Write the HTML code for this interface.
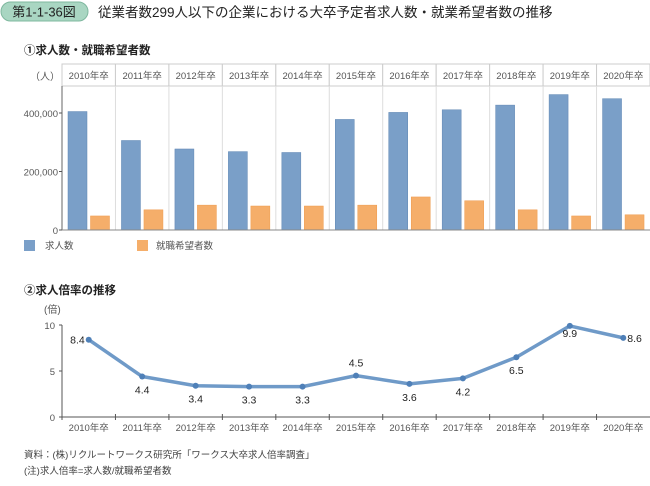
<!DOCTYPE html>
<html><head><meta charset="utf-8">
<style>
body{margin:0;background:#fff;width:650px;height:481px;overflow:hidden;font-family:"Liberation Sans","Noto Sans CJK JP",sans-serif;}
svg text{font-family:"Liberation Sans","Noto Sans CJK JP",sans-serif;}
</style></head><body>
<svg id="c" width="650" height="481">
<rect x="1" y="2" width="87" height="19" rx="9.5" fill="#a9d6c2" stroke="#7fb89f"/>
<text x="44" y="16.5" font-size="13" text-anchor="middle" fill="#222">第1-1-36図</text>
<text x="98" y="17" font-size="13.5" fill="#222">従業者数299人以下の企業における大卒予定者求人数・就業希望者数の推移</text>
<text x="24" y="54" font-size="11.5" font-weight="bold" fill="#222">①求人数・就職希望者数</text>
<text x="30" y="80" font-size="10" fill="#555">（人）</text>
<g id="bars"></g>
<rect x="24" y="240" width="11" height="11" fill="#7a9fc8"/>
<text x="45" y="249" font-size="9.5" fill="#555">求人数</text>
<rect x="137" y="240" width="11" height="11" fill="#f5ae6a"/>
<text x="156" y="249" font-size="9.5" fill="#555">就職希望者数</text>
<text x="24" y="294" font-size="11.5" font-weight="bold" fill="#222">②求人倍率の推移</text>
<text x="44" y="313" font-size="10" fill="#555">(倍)</text>
<g id="line"></g>
<text x="24" y="458" font-size="9.5" fill="#444">資料：(株)リクルートワークス研究所「ワークス大卒求人倍率調査」</text>
<text x="24" y="474" font-size="9.5" fill="#444">(注)求人倍率=求人数/就職希望者数</text>
</svg>
<script>
const categories=["2010年卒","2011年卒","2012年卒","2013年卒","2014年卒","2015年卒","2016年卒","2017年卒","2018年卒","2019年卒","2020年卒"];
const jobOffers=[405000,306000,277000,268000,265000,378000,402000,411000,427000,463000,449000];
const applicants=[48000,69000,85000,82000,82000,85000,113000,100000,69000,48000,52000];
const ratios=[8.4,4.4,3.4,3.3,3.3,4.5,3.6,4.2,6.5,9.9,8.6];
const barTicks=[0,200000,400000];
const barTickLabels=["0","200,000","400,000"];
const lineTicks=[0,5,10];
const ns="http://www.w3.org/2000/svg";
function mk(p,t,a){const e=document.createElementNS(ns,t);for(const k in a)e.setAttribute(k,a[k]);p.appendChild(e);return e;}
const L=62,R=650,cw=(R-L)/categories.length;
const by=v=>230-v*(117/400000);
const bg=document.getElementById('bars');
categories.forEach((c,i)=>{
  const x0=L+i*cw;
  const h=mk(bg,'rect',{x:x0,y:64,width:cw,height:22,fill:'#fff',stroke:'#ccc'});
  
  
  const t=mk(bg,'text',{x:x0+cw/2,y:79,'font-size':9.5,'text-anchor':'middle',fill:'#555'});t.textContent=c;
  
  
  if(i>0){const s=mk(bg,'line',{x1:x0,y1:86,x2:x0,y2:230,stroke:'#ddd'});
  
  }
  const b1=mk(bg,'rect',{x:x0+6,y:by(jobOffers[i]),width:19,height:230-by(jobOffers[i]),fill:'#7a9fc8',stroke:'#5f86b3','stroke-width':0.5});
  
  
  const b2=mk(bg,'rect',{x:x0+28.5,y:by(applicants[i]),width:19,height:230-by(applicants[i]),fill:'#f5ae6a',stroke:'#ee9a4c','stroke-width':0.5});
  
  
});
const ax=mk(bg,'line',{x1:L,y1:86,x2:L,y2:230,stroke:'#666'});


const bx=mk(bg,'line',{x1:L-3,y1:230,x2:R,y2:230,stroke:'#888'});


barTicks.forEach((v,i)=>{
  const t=mk(bg,'text',{x:L-4,y:by(v)+4,'font-size':9.5,'text-anchor':'end',fill:'#555'});t.textContent=barTickLabels[i];
  
  
  const k=mk(bg,'line',{x1:L-3,y1:by(v),x2:L,y2:by(v),stroke:'#555'});
  
  
});
const lg=document.getElementById('line');
const ly=v=>417-v*9.2;
const lx=i=>L+cw*(i+0.5);
const ya=mk(lg,'line',{x1:L,y1:ly(10),x2:L,y2:417,stroke:'#555'});


const xa=mk(lg,'line',{x1:L,y1:417,x2:R,y2:417,stroke:'#555'});


lineTicks.forEach(v=>{
  const k=mk(lg,'line',{x1:L-3,y1:ly(v),x2:L,y2:ly(v),stroke:'#555'});
  
  
  const t=mk(lg,'text',{x:L-7,y:ly(v)+4,'font-size':9.5,'text-anchor':'end',fill:'#555'});t.textContent=v;
  
  
});
categories.forEach((c,i)=>{
  const k=mk(lg,'line',{x1:L+cw*i,y1:414,x2:L+cw*i,y2:420,stroke:'#555'});
  
  
  const t=mk(lg,'text',{x:lx(i),y:431,'font-size':9.5,'text-anchor':'middle',fill:'#555'});t.textContent=c;
  
  
});
const pl=mk(lg,'polyline',{points:ratios.map((v,i)=>lx(i)+','+ly(v)).join(' '),fill:'none',stroke:'#6f9ac8','stroke-width':3.5,'stroke-linejoin':'round'});


const above=[false,false,false,false,false,true,false,false,false,false,false];
ratios.forEach((v,i)=>{
  const p=mk(lg,'circle',{cx:lx(i),cy:ly(v),r:3,fill:'#4f80b8'});
  
  
  let x=lx(i),y,anc='middle';
  if(i===0){x=lx(i)-4;y=ly(v)+4;anc='end';}
  else if(i===10){x=lx(i)+4;y=ly(v)+4;anc='start';}
  else if(i===9){y=ly(v)+11;}
  else if(above[i]){y=ly(v)-9;}
  else y=ly(v)+17;
  const t=mk(lg,'text',{x:x,y:y,'font-size':10.5,'text-anchor':anc,fill:'#222'});t.textContent=v.toFixed(1);
  
  
});
</script>
</body></html>
